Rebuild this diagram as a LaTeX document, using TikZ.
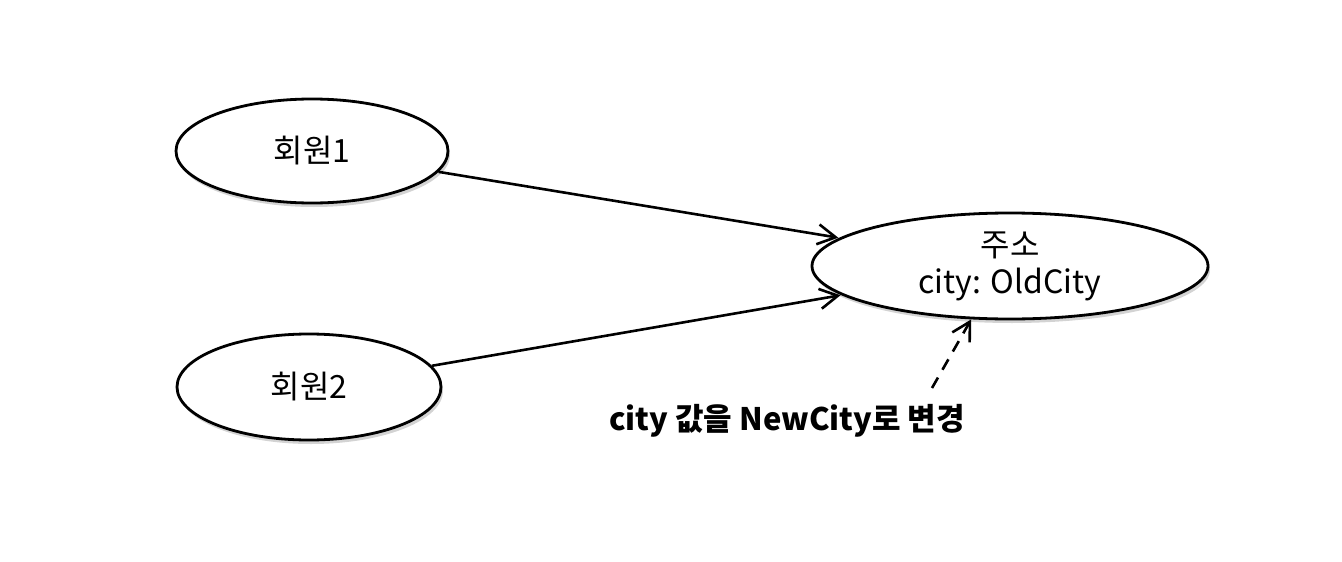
\documentclass[tikz,border=0pt]{standalone}
\usepackage{fontspec}
\setmainfont{Noto Sans CJK KR}
\usetikzlibrary{positioning}
\usetikzlibrary{arrows.meta}
\usetikzlibrary{shapes.geometric}
\usetikzlibrary{shadows}

\begin{document}
\begin{tikzpicture}[x=1pt, y=-1pt,
    entity/.style={draw, ellipse, line width=2.8pt, fill=white, inner sep=0pt,
        font=\fontsize{32}{37}\selectfont, align=center,
        drop shadow={shadow xshift=2pt, shadow yshift=-4pt, opacity=0.35}},
    ref/.style={-{Straight Barb[length=18pt, width=20pt, line width=2.6pt]}, line width=2.6pt}]
    \useasboundingbox (0,0) rectangle (1342,562);

    \node[entity, minimum width=272pt, minimum height=104pt] (m1) at (312, 151) {회원1};
    \node[entity, minimum width=264pt, minimum height=106pt] (m2) at (309, 387) {회원2};
    \node[entity, minimum width=396pt, minimum height=106pt] (addr) at (1010, 266) {주소\\city: OldCity};
    \node[font=\fontsize{31}{36}\selectfont\bfseries] (note) at (787, 421) {city 값을 NewCity로 변경};

    \draw[ref, shorten >=1pt] (m1) -- (addr);
    \draw[ref, shorten >=1pt] (m2) -- (addr);

    % shared address changed
    \coordinate (tail) at (932, 388);
    \draw[ref, dashed, dash pattern=on 12pt off 9pt] (tail) -- (addr.234);
\end{tikzpicture}
\end{document}
